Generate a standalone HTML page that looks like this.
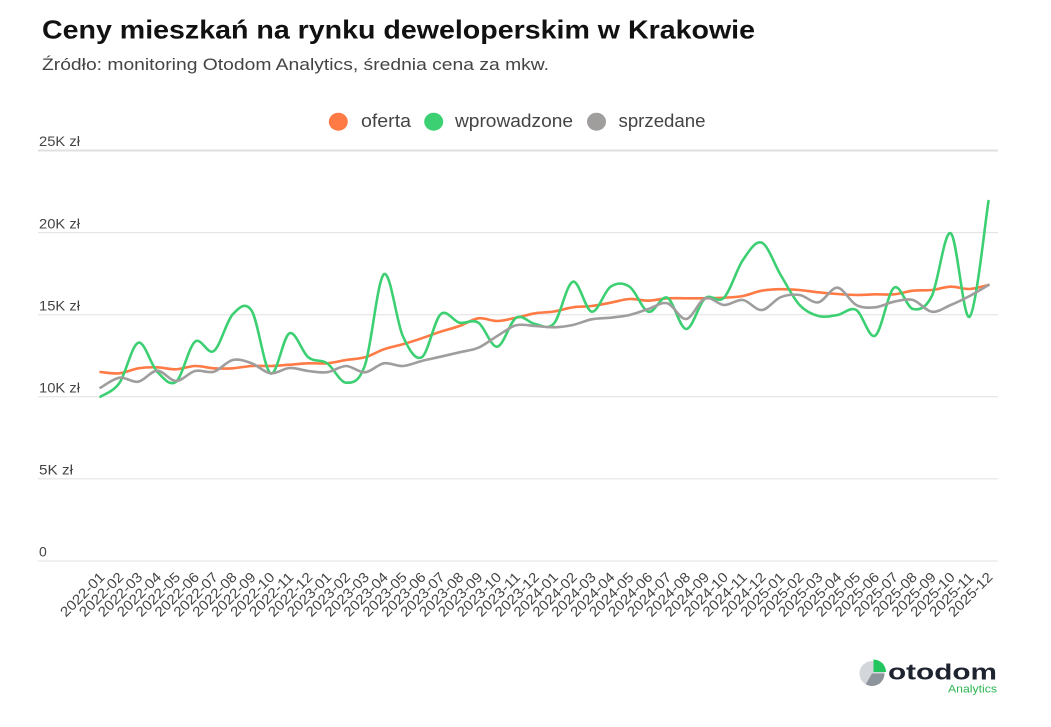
<!DOCTYPE html>
<html>
<head>
<meta charset="utf-8">
<style>
html,body{margin:0;padding:0;background:#fff;}
body{width:1051px;height:727px;overflow:hidden;}
svg{display:block;}
text{font-family:"Liberation Sans",sans-serif;}
</style>
</head>
<body>
<svg id="c" width="1051" height="727" viewBox="0 0 1051 727" xmlns="http://www.w3.org/2000/svg">
  <rect width="1051" height="727" fill="#fff"/>
  <!-- title -->
  <text x="42" y="38.5" font-size="26" font-weight="bold" fill="#111" textLength="713" lengthAdjust="spacingAndGlyphs">Ceny mieszkań na rynku deweloperskim w Krakowie</text>
  <text x="42" y="70" font-size="16.5" fill="#444" textLength="507" lengthAdjust="spacingAndGlyphs">Źródło: monitoring Otodom Analytics, średnia cena za mkw.</text>

  <!-- legend -->
  <ellipse cx="338.3" cy="121.7" rx="9.5" ry="9" fill="#ff7a45"/>
  <text x="361" y="127" font-size="18" fill="#444" textLength="50" lengthAdjust="spacingAndGlyphs">oferta</text>
  <ellipse cx="433.7" cy="121.7" rx="9.5" ry="9" fill="#3dd073"/>
  <text x="455" y="127" font-size="18" fill="#444" textLength="118" lengthAdjust="spacingAndGlyphs">wprowadzone</text>
  <ellipse cx="596.5" cy="121.7" rx="9.5" ry="9" fill="#a09d9d"/>
  <text x="618.5" y="127" font-size="18" fill="#444" textLength="87" lengthAdjust="spacingAndGlyphs">sprzedane</text>

  <!-- grid -->
  <g stroke="#e0e0e0">
    <line x1="38" y1="150.5" x2="998" y2="150.5" stroke-width="2"/>
    <line x1="38" y1="232.6" x2="998" y2="232.6" stroke-width="1"/>
    <line x1="38" y1="314.7" x2="998" y2="314.7" stroke-width="1"/>
    <line x1="38" y1="396.8" x2="998" y2="396.8" stroke-width="1"/>
    <line x1="38" y1="478.9" x2="998" y2="478.9" stroke-width="1"/>
    <line x1="38" y1="561" x2="998" y2="561" stroke-width="1"/>
  </g>
  <g font-size="14" fill="#444">
    <text x="39" y="146" textLength="41" lengthAdjust="spacingAndGlyphs">25K zł</text>
    <text x="39" y="228.3" textLength="41" lengthAdjust="spacingAndGlyphs">20K zł</text>
    <text x="39" y="310.3" textLength="41" lengthAdjust="spacingAndGlyphs">15K zł</text>
    <text x="39" y="392.5" textLength="41" lengthAdjust="spacingAndGlyphs">10K zł</text>
    <text x="39" y="474.5" textLength="34" lengthAdjust="spacingAndGlyphs">5K zł</text>
    <text x="39" y="556.5">0</text>
  </g>

  <g id="xl" font-size="14" fill="#444"></g>

  <g fill="none" stroke-width="2.6" stroke-linejoin="round" stroke-linecap="round">
    <path id="po" stroke="#ff7a45"/>
    <path id="pg" stroke="#3dd073"/>
    <path id="pa" stroke="#a09d9d"/>
  </g>

  <!-- logo -->
  <circle cx="872" cy="673.5" r="12.5" fill="#d3d6db"/>
  <path d="M872 673.5 L884.5 673.5 A12.5 12.5 0 0 1 865.75 684.3 Z" fill="#8e949b"/>
  <path d="M873.5 672 L873.5 659.5 A12.5 12.5 0 0 1 886 672 Z" fill="#22c55e"/>
  <text x="888" y="679.3" font-size="22" font-weight="bold" fill="#1e2330" textLength="109" lengthAdjust="spacingAndGlyphs">otodom</text>
  <text x="948" y="692.7" font-size="11" fill="#2db653" textLength="49" lengthAdjust="spacingAndGlyphs">Analytics</text>
</svg>
<script>
(function(){
var X0=100.5, DX=18.894;
var green=[396.7,383,342.7,371.7,381.7,341.7,351,314.3,310.7,373.3,333.3,357.3,363.3,382.7,365,274.3,336,357.3,314.3,322.7,322.7,346.7,317.7,324,323.5,281.7,311.7,286.7,286.7,311.7,297.7,329,298.3,297.7,260,242.7,275,305,316,315,310,335.7,287.7,309,296,233.3,316.7,201];
var orange=[372,373.3,368.3,367.3,369.3,366,368.3,368.3,366,366,364.7,363.3,363.3,360,357.3,349.3,344.3,338.3,331.7,326,318.3,321,317.7,313.3,311.5,307.3,306,302.7,299,300.7,298.3,298.3,298.3,297.7,296,290.7,289.2,290,292.3,294,295,294.3,294.3,290.7,290,286.7,289,285];
var gray=[387.7,377.7,381.7,370.7,381,371,371.7,360,363.3,373.3,368,371,372.2,366,372.3,363.3,366,361,356.7,352.3,347.7,336,325.3,326,327.3,325,319.3,317.7,315,309,303.3,319,298.3,305,300,310,297.2,295,302.3,287.7,305,307.3,301.7,300,311.7,305,296,285];
function f(v){return v.toFixed(2);}
function path(ys){
  var p=ys.map(function(y,i){return [X0+i*DX,y];});
  var d="M"+f(p[0][0])+" "+f(p[0][1]);
  for(var i=0;i<p.length-1;i++){
    var p0=p[i-1]||p[i], p1=p[i], p2=p[i+1], p3=p[i+2]||p[i+1];
    var c1x=p1[0]+(p2[0]-p0[0])/6, c1y=p1[1]+(p2[1]-p0[1])/6;
    var c2x=p2[0]-(p3[0]-p1[0])/6, c2y=p2[1]-(p3[1]-p1[1])/6;
    d+=" C"+f(c1x)+" "+f(c1y)+" "+f(c2x)+" "+f(c2y)+" "+f(p2[0])+" "+f(p2[1]);
  }
  return d;
}
document.getElementById("po").setAttribute("d",path(orange));
document.getElementById("pg").setAttribute("d",path(green));
document.getElementById("pa").setAttribute("d",path(gray));
var g=document.getElementById("xl"), ns="http://www.w3.org/2000/svg";
for(var i=0;i<48;i++){
  var yr=2022+Math.floor(i/12), m=(i%12)+1;
  var s=yr+"-"+(m<10?"0"+m:m);
  var x=X0+i*DX+5, y=578;
  var t=document.createElementNS(ns,"text");
  t.setAttribute("x",f(x)); t.setAttribute("y",y);
  t.setAttribute("text-anchor","end");
  t.setAttribute("textLength","56");
  t.setAttribute("lengthAdjust","spacingAndGlyphs");
  t.setAttribute("transform","rotate(-45 "+f(x)+" "+y+")");
  t.textContent=s;
  g.appendChild(t);
}
})();
</script>
</body>
</html>
